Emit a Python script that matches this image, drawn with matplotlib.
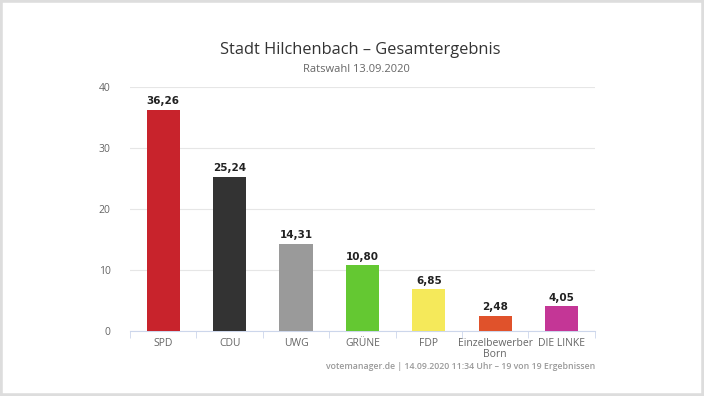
import matplotlib.pyplot as plt
from matplotlib.patches import Rectangle

plt.rcParams['font.family'] = ['Open Sans', 'DejaVu Sans']

parteien = ['SPD', 'CDU', 'UWG', 'GRÜNE', 'FDP', 'Einzelbewerber\nBorn', 'DIE LINKE']
anteile = [36.26, 25.24, 14.31, 10.80, 6.85, 2.48, 4.05]
farben = ['#c8232c', '#333333', '#9a9a9a', '#64c832', '#f5e95a', '#e0522b', '#c43696']

fig = plt.figure(figsize=(7.04, 3.96), dpi=100)
ax = fig.add_axes([0.1847, 0.164, 0.6603, 0.616])

x = list(range(len(parteien)))
ax.bar(x, anteile, width=0.5, color=farben, zorder=3)
for xi, v in zip(x, anteile):
    ax.text(xi, v + 0.6, '{:.2f}'.format(v).replace('.', ','), ha='center', va='bottom',
            fontsize=7.5, fontweight='bold', color='#222222', family='DejaVu Sans')

ax.set_xlim(-0.5, len(parteien) - 0.5)
ax.set_ylim(0, 40)
ax.set_yticks([0, 10, 20, 30, 40])
ax.grid(axis='y', color='#e6e6e6', linewidth=0.8, zorder=0)
ax.set_xticks(x)
ax.set_xticklabels(parteien, fontsize=7.5, color='#666666', linespacing=0.95)
ax.set_xticks([i - 0.5 for i in range(len(parteien) + 1)], minor=True)
ax.tick_params(axis='x', which='major', length=0, pad=5)
ax.tick_params(axis='x', which='minor', length=5, color='#ccd6eb')
ax.tick_params(axis='y', length=0, labelsize=7.5, labelcolor='#666666', pad=14)
for s in ['top', 'right', 'left']:
    ax.spines[s].set_visible(False)
ax.spines['bottom'].set_color('#ccd6eb')

fig.text(0.512, 0.873, 'Stadt Hilchenbach – Gesamtergebnis', ha='center', va='center',
         fontsize=11.8, color='#333333')
fig.text(0.506, 0.824, 'Ratswahl 13.09.2020', ha='center', va='center',
         fontsize=8, color='#666666')
fig.text(0.845, 0.074, 'votemanager.de | 14.09.2020 11:34 Uhr – 19 von 19 Ergebnissen',
         ha='right', va='center', fontsize=6.3, color='#999999', fontweight='semibold')

fig.patches.append(Rectangle((0, 0), 1, 1, transform=fig.transFigure, fill=False,
                             edgecolor='#dddddd', linewidth=4))

fig.savefig('out.png', dpi=100)
